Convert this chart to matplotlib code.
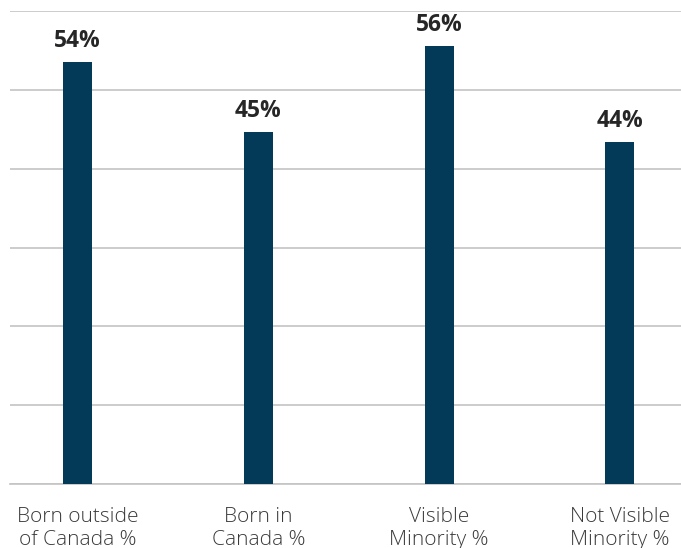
import matplotlib
matplotlib.use('Agg')
import matplotlib.pyplot as plt
import numpy as np

# Data
categories = ['Born outside\nof Canada %', 'Born in\nCanada %', 'Visible\nMinority %', 'Not Visible\nMinority %']
values = [53.5, 44.7, 55.6, 43.4]
value_labels = ['54%', '45%', '56%', '44%']
y_ticks = [0, 10, 20, 30, 40, 50, 60]

plt.rcParams['font.family'] = ['Open Sans', 'DejaVu Sans']

fig = plt.figure(figsize=(6.81, 5.48), dpi=100)
ax = fig.add_axes([10/681, 64/548, 671/681, 473/548])

x = np.arange(len(categories))
ax.bar(x, values, width=0.16, color='#023A58', zorder=3)

for xi, v, lab in zip(x, values, value_labels):
    ax.annotate(lab, (xi, v), xytext=(0, 6.5), textcoords='offset points',
                ha='center', va='bottom', fontsize=16.5, fontweight='bold', color='#262626')

ax.set_xlim(-0.373, 3.338)
ax.set_ylim(0, 60)
ax.set_yticks(y_ticks)
ax.yaxis.grid(True, color='#C4C4C4', linewidth=1.2, zorder=0)
ax.tick_params(axis='y', left=False, labelleft=False)
ax.tick_params(axis='x', bottom=False, pad=13)
ax.set_xticks(x)
ax.set_xticklabels(categories, fontsize=15, color='#3A3A3A', linespacing=1.18, fontweight='light')
for s in ['top', 'right', 'left']:
    ax.spines[s].set_visible(False)
ax.spines['bottom'].set_color('#C4C4C4')
ax.spines['bottom'].set_linewidth(1.2)

fig.savefig('out.png', dpi=100)
